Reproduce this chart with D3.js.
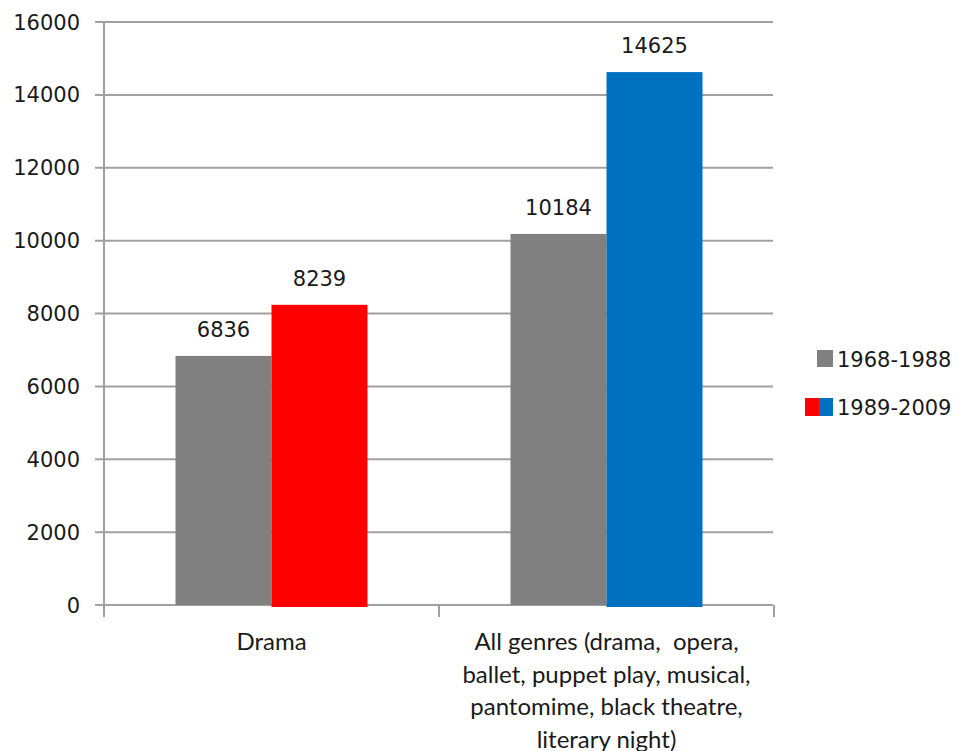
<!DOCTYPE html>
<html>
<head>
<meta charset="utf-8">
<script src="https://cdn.jsdelivr.net/npm/d3@7"></script>
<style>
  body { margin: 0; background: #fff; }
  svg { display: block; }
</style>
</head>
<body>
<div id="chart"></div>
<script>
// data
const categories = ["Drama", "All genres (drama, opera, ballet, puppet play, musical, pantomime, black theatre, literary night)"];
const categoryLines = [["Drama"], ["All genres (drama,  opera,", "ballet, puppet play, musical,", "pantomime, black theatre,", "literary night)"]];
const seriesNames = ["1968-1988", "1989-2009"];
const values1968 = [6836, 10184];
const values1989 = [8239, 14625];
const colors1989 = ["#ff0000", "#0070c0"];
const grayColor = "#808080";
const yTicks = [0, 2000, 4000, 6000, 8000, 10000, 12000, 14000, 16000];

const width = 959, height = 751;
const plotLeft = 104, plotRight = 774, plotTop = 22, plotBottom = 605;
const numFont = "'DejaVu Sans', Verdana, sans-serif";
const txtFont = "Lato, 'Open Sans', sans-serif";

let svg = d3.select("#chart").append("svg")
    .attr("width", width)
    .attr("height", height);

let x0 = d3.scaleBand().domain(categories).range([plotLeft, plotRight]).paddingInner(0).paddingOuter(0);
let x1 = d3.scaleBand().domain(seriesNames).range([0, x0.bandwidth()]).paddingInner(0).paddingOuter(0.745);
let y = d3.scaleLinear().domain([0, 16000]).range([plotBottom, plotTop]);

// gridlines + tick labels
let grid = svg.append("g");
grid.selectAll("line")
    .data(yTicks)
    .enter().append("line")
    .attr("x1", plotLeft - 9)
    .attr("x2", plotRight - 1)
    .attr("y1", d => y(d))
    .attr("y2", d => y(d))
    .style("stroke", "#a0a0a0")
    .style("stroke-width", "2px");

grid.selectAll("text")
    .data(yTicks)
    .enter().append("text")
    .attr("x", 80)
    .attr("y", d => y(d))
    .attr("dy", "0.36em")
    .style("text-anchor", "end")
    .style("font-family", numFont)
    .style("font-size", "21px")
    .style("fill", "#1a1a1a")
    .text(d => d);

// bars
let rows = categories.map((c, i) => ({cat: c, i: i}));
let groups = svg.append("g").selectAll("g")
    .data(rows)
    .enter().append("g")
    .attr("transform", d => `translate(${x0(d.cat)},0)`);

groups.append("rect")
    .attr("x", x1(seriesNames[0]))
    .attr("width", x1.bandwidth())
    .attr("y", d => y(values1968[d.i]))
    .attr("height", d => y(0) - y(values1968[d.i]))
    .style("fill", grayColor);

groups.append("rect")
    .attr("x", x1(seriesNames[1]))
    .attr("width", x1.bandwidth())
    .attr("y", d => y(values1989[d.i]))
    .attr("height", d => y(0) - y(values1989[d.i]) + 2)
    .style("fill", d => colors1989[d.i]);

// value labels
groups.append("text")
    .attr("x", x1(seriesNames[0]) + x1.bandwidth() / 2)
    .attr("y", d => y(values1968[d.i]) - 19)
    .style("text-anchor", "middle")
    .style("font-family", numFont)
    .style("font-size", "21px")
    .style("fill", "#1a1a1a")
    .text(d => values1968[d.i]);

groups.append("text")
    .attr("x", x1(seriesNames[1]) + x1.bandwidth() / 2)
    .attr("y", d => y(values1989[d.i]) - 19)
    .style("text-anchor", "middle")
    .style("font-family", numFont)
    .style("font-size", "21px")
    .style("fill", "#1a1a1a")
    .text(d => values1989[d.i]);

// axes lines
svg.append("line")
    .attr("x1", plotLeft).attr("x2", plotLeft)
    .attr("y1", plotTop).attr("y2", plotBottom + 12)
    .style("stroke", "#a0a0a0").style("stroke-width", "2px");

let xTicks = categories.map(c => x0(c)).concat([plotRight]);
svg.append("g").selectAll("line")
    .data(xTicks)
    .enter().append("line")
    .attr("x1", d => d).attr("x2", d => d)
    .attr("y1", plotBottom).attr("y2", plotBottom + 12)
    .style("stroke", "#a0a0a0").style("stroke-width", "2px");

// category labels
let catLabels = svg.append("g").selectAll("text")
    .data(rows)
    .enter().append("text")
    .attr("x", d => x0(d.cat) + x0.bandwidth() / 2)
    .attr("y", 650)
    .attr("xml:space", "preserve")
    .style("text-anchor", "middle")
    .style("font-family", txtFont)
    .style("font-size", "24px")
    .style("fill", "#1a1a1a");

catLabels.selectAll("tspan")
    .data(d => categoryLines[d.i])
    .enter().append("tspan")
    .attr("x", function() { return d3.select(this.parentNode).attr("x"); })
    .attr("dy", (d, j) => j == 0 ? 0 : 32.5)
    .text(d => d);

// legend
let legend = svg.append("g");
legend.append("rect")
    .attr("x", 817).attr("y", 350).attr("width", 16).attr("height", 17)
    .style("fill", grayColor);
legend.append("rect")
    .attr("x", 805).attr("y", 398).attr("width", 14).attr("height", 18)
    .style("fill", colors1989[0]);
legend.append("rect")
    .attr("x", 819).attr("y", 398).attr("width", 14).attr("height", 18)
    .style("fill", colors1989[1]);

legend.selectAll("text")
    .data(seriesNames)
    .enter().append("text")
    .attr("x", 837)
    .attr("y", (d, i) => 359 + i * 48)
    .attr("dy", "0.36em")
    .style("font-family", numFont)
    .style("font-size", "21px")
    .style("fill", "#1a1a1a")
    .text(d => d);
</script>
</body>
</html>
